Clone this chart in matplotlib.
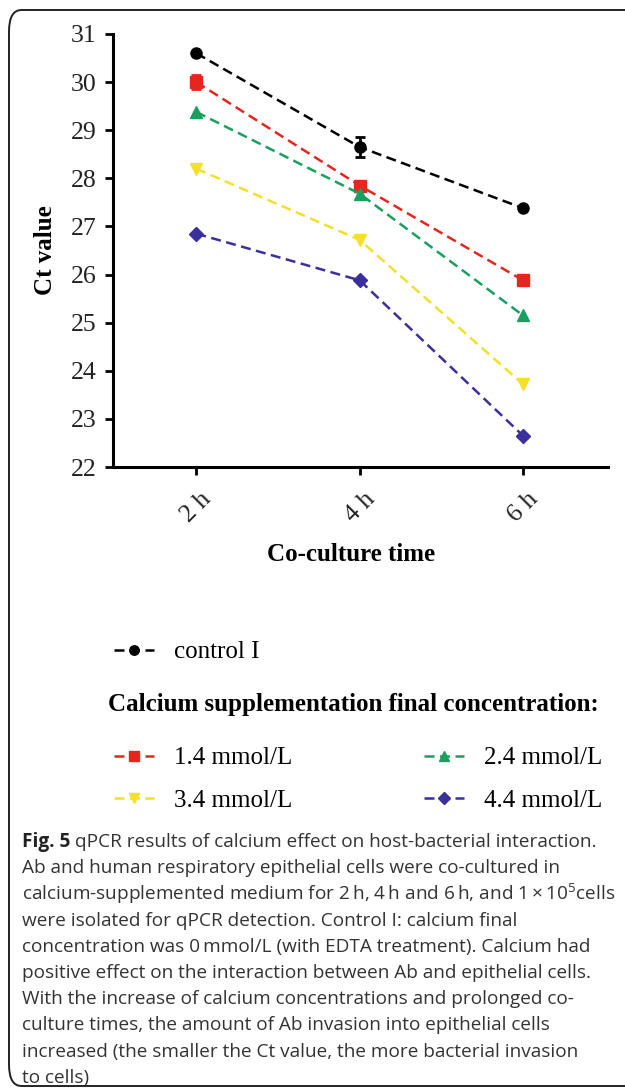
import matplotlib
matplotlib.use("Agg")
import matplotlib.pyplot as plt
from matplotlib.lines import Line2D
from matplotlib.patches import FancyBboxPatch

times = ["2 h", "4 h", "6 h"]
control = [30.6, 28.65, 27.38]
control_err = [0.0, 0.2, 0.0]
ca14 = [30.0, 27.85, 25.88]
ca14_err = [0.15, 0.0, 0.0]
ca24 = [29.38, 27.68, 25.15]
ca34 = [28.2, 26.72, 23.72]
ca44 = [26.85, 25.88, 22.65]
yticks = [22, 23, 24, 25, 26, 27, 28, 29, 30, 31]

W, H = 625, 1088
fig = plt.figure(figsize=(W / 100, H / 100), dpi=100)
serif = ["Liberation Serif", "DejaVu Serif"]
plt.rcParams["mathtext.fontset"] = "custom"
plt.rcParams["mathtext.rm"] = "Open Sans"
plt.rcParams["mathtext.it"] = "Open Sans"
plt.rcParams["mathtext.bf"] = "Open Sans:bold"

def fx(px):
    return px / W

def fy(py):
    return 1 - py / H

# border box
fig.patches.append(FancyBboxPatch((fx(9), fy(1086)), fx(700), fy(10) - fy(1086),
                                  boxstyle="round,pad=0,rounding_size=0.02",
                                  transform=fig.transFigure, fill=False,
                                  edgecolor="#222222", linewidth=1.4))

ax = fig.add_axes([fx(113), fy(467), fx(608) - fx(113), fy(34) - fy(467)])
x = list(range(len(times)))
series = [
    (control, control_err, "black", "o", "control I"),
    (ca14, ca14_err, "#e5261f", "s", "1.4 mmol/L"),
    (ca24, None, "#18a05e", "^", "2.4 mmol/L"),
    (ca34, None, "#f3e02a", "v", "3.4 mmol/L"),
    (ca44, None, "#3a2f9b", "D", "4.4 mmol/L"),
]
handles = []
for vals, err, col, mk, lab in series:
    ms = 7 if mk == "D" else 8
    ax.errorbar(x, vals, yerr=err, color=col, marker=mk, markersize=ms,
                linestyle=(0, (4, 2.2)), linewidth=1.8, capsize=3.5,
                elinewidth=2, capthick=2)
    handles.append(Line2D([], [], color=col, marker=mk, markersize=ms * 0.85,
                          linestyle=(0, (4, 2.2)), linewidth=1.8, label=lab))

ax.set_xlim(-0.51, 2.52)
ax.set_ylim(22, 31)
ax.set_yticks(yticks)
ax.set_xticks(x)
ax.set_xticklabels(times, rotation=45, ha="center", va="top")
for sp in ["top", "right"]:
    ax.spines[sp].set_visible(False)
for sp in ["left", "bottom"]:
    ax.spines[sp].set_linewidth(2.2)
ax.tick_params(width=2, length=6, labelsize=18.5, direction="out", pad=6)
for lbl in ax.get_xticklabels() + ax.get_yticklabels():
    lbl.set_family(serif)
    lbl.set_color("#222222")
ax.tick_params(axis="x", pad=9)
ax.set_ylabel("Ct value", family=serif, fontweight="bold", fontsize=18, labelpad=10)
ax.set_xlabel("Co-culture time", family=serif, fontweight="bold", fontsize=18, labelpad=12)
ax.xaxis.label.set_x(0.48)

leg_kw = dict(frameon=False, prop={"family": serif, "size": 18}, handlelength=1.6,
              handletextpad=0.8, borderaxespad=0, borderpad=0)
fig.legend(handles=[handles[0]], loc="center left",
           bbox_to_anchor=(fx(114), fy(652)), **leg_kw)
fig.text(fx(108), fy(705), "Calcium supplementation final concentration:",
         family=serif, fontweight="bold", fontsize=18, va="center", ha="left")
order = [handles[1], handles[3], handles[2], handles[4]]
fig.legend(handles=order, loc="upper left", ncol=2,
           bbox_to_anchor=(fx(114), fy(747)), columnspacing=5.25,
           labelspacing=0.8, **leg_kw)

# caption
cap_font = ["Open Sans", "DejaVu Sans"]
cap_size = 13.7
lines = [
    "qPCR results of calcium effect on host-bacterial interaction.",
    "Ab and human respiratory epithelial cells were co-cultured in",
    "calcium-supplemented medium for 2\u2009h, 4\u2009h and 6\u2009h, and 1\u2009\u00d7\u200910$^5$cells",
    "were isolated for qPCR detection. Control I: calcium final",
    "concentration was 0\u2009mmol/L (with EDTA treatment). Calcium had",
    "positive effect on the interaction between Ab and epithelial cells.",
    "With the increase of calcium concentrations and prolonged co-",
    "culture times, the amount of Ab invasion into epithelial cells",
    "increased (the smaller the Ct value, the more bacterial invasion",
    "to cells)",
]
x0 = 22
y0 = 842
dy = 26.2
t = fig.text(fx(x0), fy(y0), "Fig. 5", family=cap_font, fontweight="bold",
             fontsize=cap_size, va="center", ha="left", color="#222222")
fig.canvas.draw()
bb = t.get_window_extent()
fig.text(fx(bb.x1 + 5), fy(y0), lines[0], family=cap_font, fontsize=cap_size,
         va="center", ha="left", color="#333333")
for i, ln in enumerate(lines[1:], start=1):
    fig.text(fx(x0), fy(y0 + i * dy), ln, family=cap_font, fontsize=cap_size,
             va="center", ha="left", color="#333333")

fig.savefig("out.png", dpi=100)
